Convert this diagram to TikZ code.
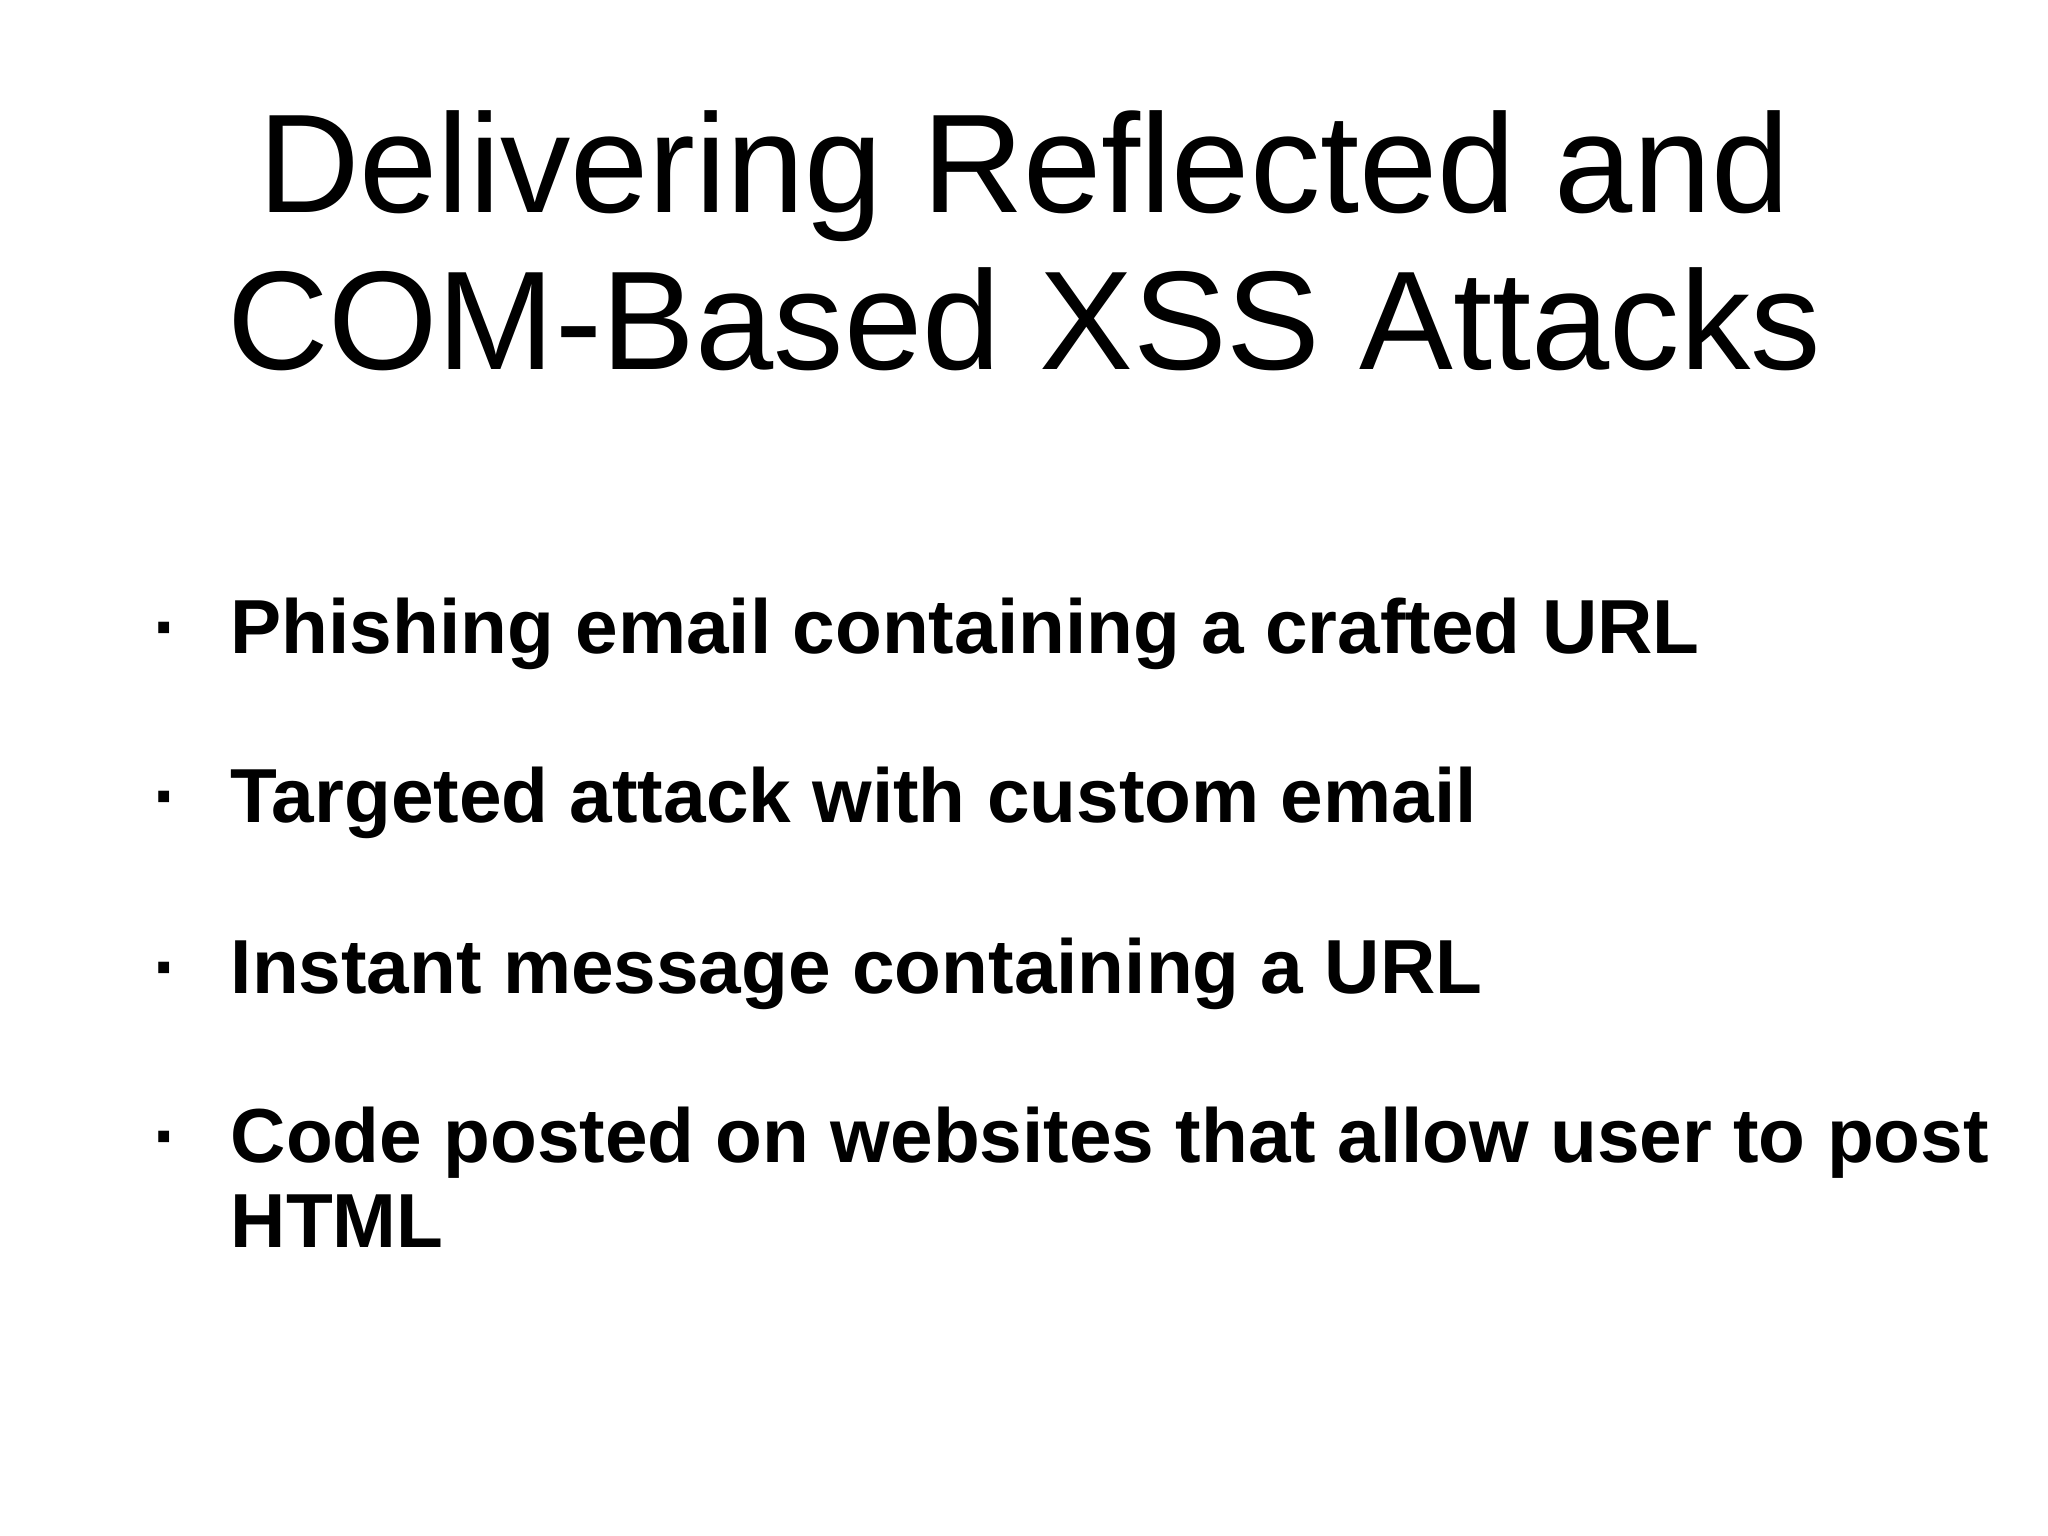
\documentclass[tikz,border=0pt]{standalone}
\usepackage{fontspec}
\setmainfont{Liberation Sans}
\begin{document}
\begin{tikzpicture}
\useasboundingbox[fill=white] (0,0) rectangle (20.48,-15.36);
\tikzset{ttl/.style={anchor=base,font=\fontsize{40}{48}\selectfont,inner sep=0},
 itm/.style={anchor=base west,font=\bfseries\fontsize{21.8}{26}\selectfont,inner sep=0},
 bul/.style={anchor=base,font=\bfseries\fontsize{21.8}{26}\selectfont,inner sep=0}}
\node[ttl] (t1) at (10.24,-2.13) {Delivering Reflected and};
\node[ttl] (t2) at (10.24,-3.70) {COM-Based XSS Attacks};
\foreach \y/\t [count=\i] in {6.53/Phishing email containing a crafted URL,8.23/Targeted attack with custom email,9.93/Instant message containing a URL,11.62/Code posted on websites that allow user to post}{
 \node[bul] (b\i) at (1.66,-\y) {\textperiodcentered};
 \node[itm] (i\i) at (2.30,-\y) {\t};
}
\node[itm] (i5) at (2.30,-12.47) {HTML};
\end{tikzpicture}
\end{document}
